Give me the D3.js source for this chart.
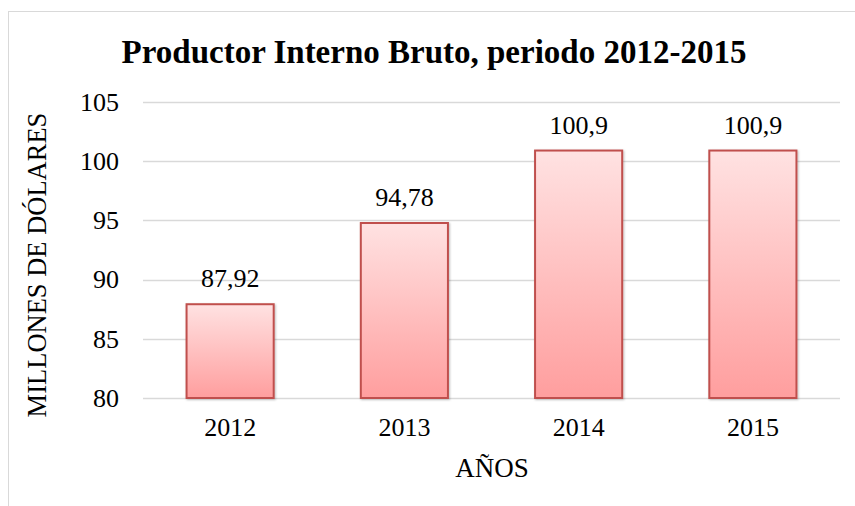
<!DOCTYPE html>
<html>
<head>
<meta charset="utf-8">
<script src="https://cdn.jsdelivr.net/npm/d3@7"></script>
<style>
  body { margin: 0; background: #fff; }
  text { font-family: "Liberation Serif", "Times New Roman", serif; }
</style>
</head>
<body>
<div id="chart"></div>
<script>
// Data
const years = ['2012', '2013', '2014', '2015'];
const values = [87.92, 94.78, 100.9, 100.9];
const labels = ['87,92', '94,78', '100,9', '100,9'];
const y_ticks = [80, 85, 90, 95, 100, 105];

const chart_width = 855;
const chart_height = 506;
const margin = {top: 102, right: 15, bottom: 108, left: 143};

const svg = d3.select('#chart')
    .append('svg')
    .attr('width', chart_width)
    .attr('height', chart_height);

// Gradient + shadow
const defs = svg.append('defs');
const grad = defs.append('linearGradient')
    .attr('id', 'bar_grad')
    .attr('x1', 0).attr('y1', 0).attr('x2', 0).attr('y2', 1);
grad.append('stop').attr('offset', '0%').attr('stop-color', '#ffe2e2');
grad.append('stop').attr('offset', '100%').attr('stop-color', '#ff9e9e');

const shadow = defs.append('filter')
    .attr('id', 'shadow')
    .attr('x', '-10%').attr('y', '-10%')
    .attr('width', '130%').attr('height', '130%');
shadow.append('feDropShadow')
    .attr('dx', 1).attr('dy', 1)
    .attr('stdDeviation', 1)
    .attr('flood-color', '#000')
    .attr('flood-opacity', 0.25);

// Outer frame
svg.append('rect')
    .attr('x', 8.5).attr('y', 11.5)
    .attr('width', 900).attr('height', 600)
    .attr('fill', 'none')
    .attr('stroke', '#d9d9d9')
    .attr('stroke-width', 1);

// Scales
const x_scale = d3.scaleBand()
    .domain(years)
    .range([margin.left, chart_width - margin.right])
    .paddingInner(0.5)
    .paddingOuter(0.25);

const y_scale = d3.scaleLinear()
    .domain([80, 105])
    .range([chart_height - margin.bottom, margin.top]);

// Grid lines
svg.append('g')
    .selectAll('line')
    .data(y_ticks)
    .join('line')
    .attr('x1', margin.left)
    .attr('x2', chart_width - margin.right)
    .attr('y1', d => Math.round(y_scale(d)) + 0.5)
    .attr('y2', d => Math.round(y_scale(d)) + 0.5)
    .attr('stroke', '#d9d9d9')
    .attr('stroke-width', 1.5);

// Y axis labels
const y_axis = d3.axisLeft(y_scale)
    .tickValues(y_ticks)
    .tickSize(0)
    .tickPadding(24);

svg.append('g')
    .attr('transform', `translate(${margin.left}, 0)`)
    .call(y_axis)
    .call(g => g.select('.domain').remove())
    .selectAll('text')
    .attr('font-size', 26)
    .attr('fill', '#000');

// X axis labels
const x_axis = d3.axisBottom(x_scale)
    .tickSize(0)
    .tickPadding(20);

svg.append('g')
    .attr('transform', `translate(0, ${chart_height - margin.bottom})`)
    .call(x_axis)
    .call(g => g.select('.domain').remove())
    .selectAll('text')
    .attr('font-size', 26)
    .attr('fill', '#000');

// Bars
svg.append('g')
    .selectAll('rect')
    .data(values)
    .join('rect')
    .attr('x', (d, i) => x_scale(years[i]))
    .attr('y', d => y_scale(d))
    .attr('width', x_scale.bandwidth())
    .attr('height', d => y_scale(80) - y_scale(d))
    .attr('fill', 'url(#bar_grad)')
    .attr('stroke', '#c0504d')
    .attr('stroke-width', 2)
    .attr('filter', 'url(#shadow)');

// Value labels
svg.append('g')
    .selectAll('text')
    .data(values)
    .join('text')
    .attr('x', (d, i) => x_scale(years[i]) + x_scale.bandwidth() / 2)
    .attr('y', d => y_scale(d) - 17)
    .attr('text-anchor', 'middle')
    .attr('font-size', 26)
    .text((d, i) => labels[i]);

// Title
svg.append('text')
    .attr('x', 434)
    .attr('y', 63)
    .attr('text-anchor', 'middle')
    .attr('font-size', 33)
    .attr('font-weight', 'bold')
    .text('Productor Interno Bruto, periodo 2012-2015');

// Axis titles
svg.append('text')
    .attr('x', 492)
    .attr('y', 477)
    .attr('text-anchor', 'middle')
    .attr('font-size', 27)
    .text('AÑOS');

svg.append('text')
    .attr('transform', `translate(46, 265) rotate(-90)`)
    .attr('text-anchor', 'middle')
    .attr('font-size', 26.5)
    .text('MILLONES DE DÓLARES');
</script>
</body>
</html>
